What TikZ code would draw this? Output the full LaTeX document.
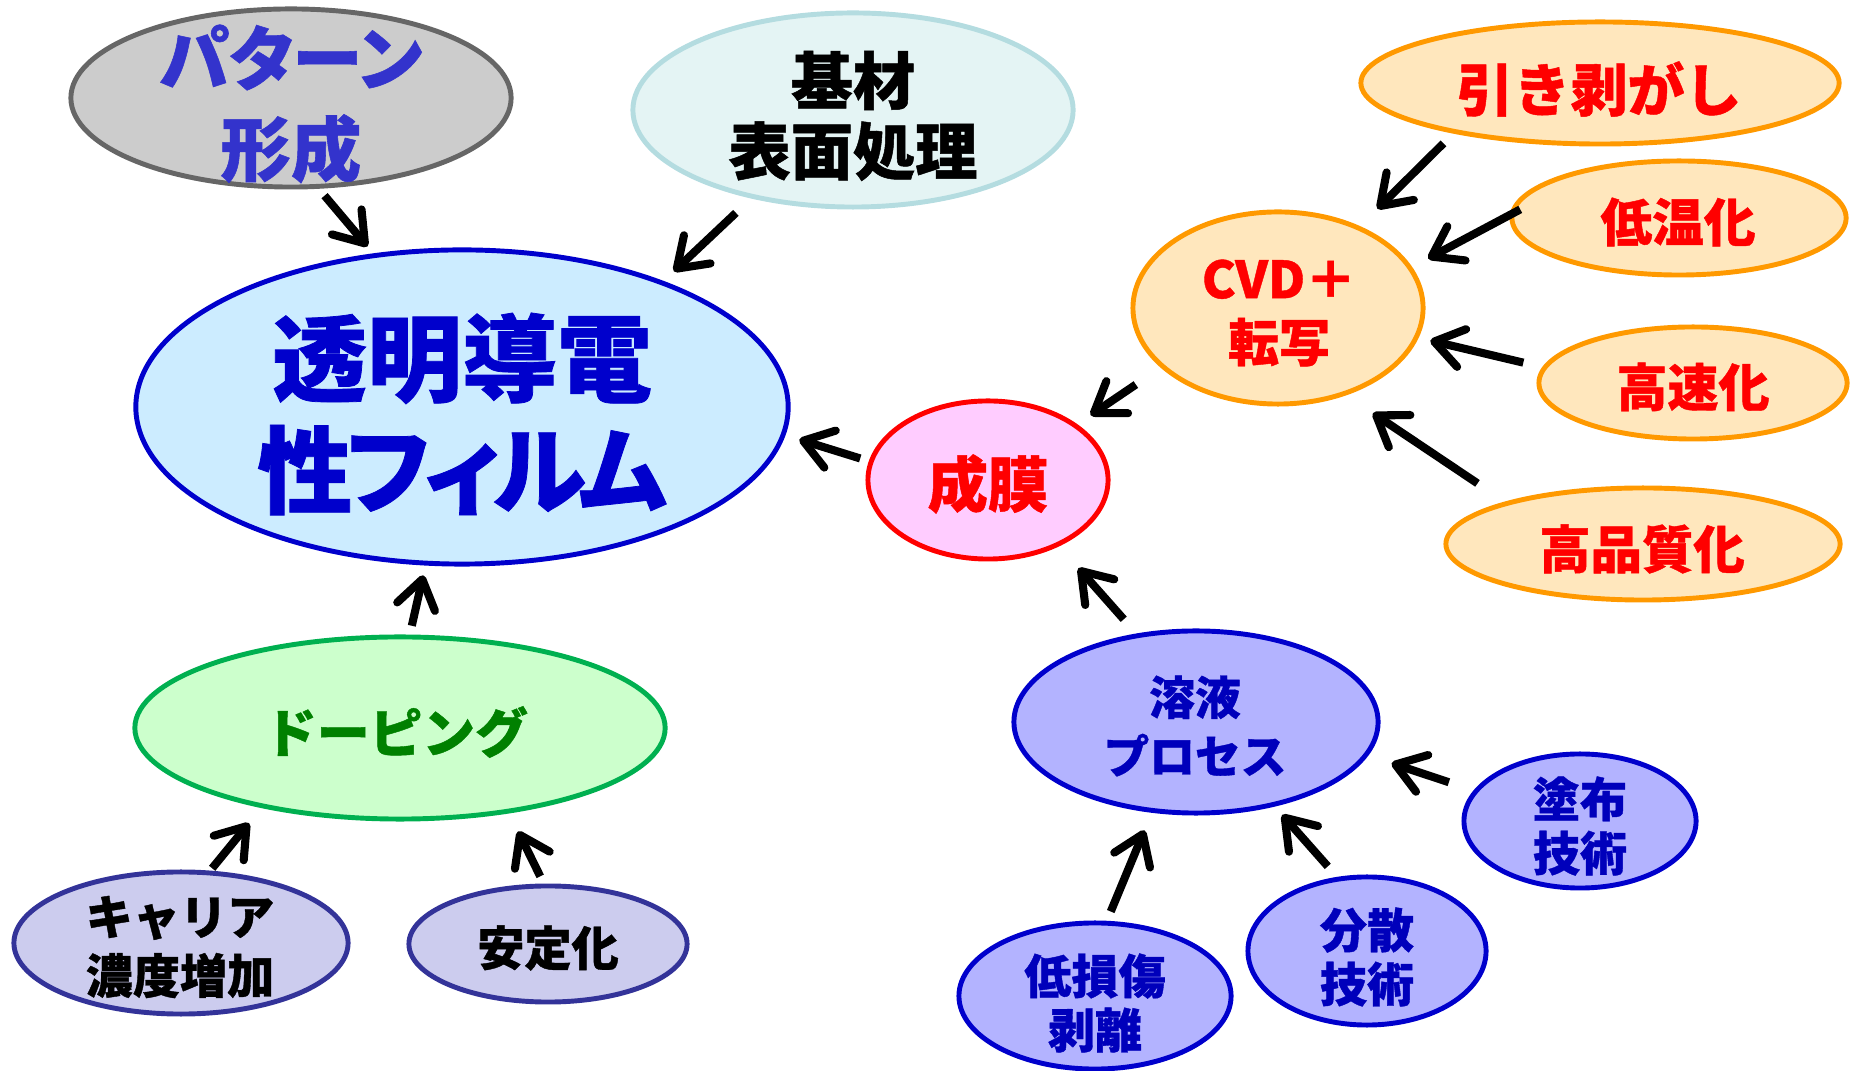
\documentclass[tikz,border=0pt]{standalone}
\usepackage{fontspec}
\setmainfont{Noto Sans CJK JP}[BoldFeatures={FakeBold=0.8}]
\newfontfamily\palfont{Noto Sans CJK JP}[RawFeature=+palt,BoldFeatures={FakeBold=0.8}]
\usetikzlibrary{shapes.geometric,arrows.meta}
\definecolor{patF}{HTML}{CCCCCC}\definecolor{patD}{HTML}{666666}\definecolor{patT}{HTML}{3333CC}
\definecolor{kizF}{HTML}{E4F4F4}\definecolor{kizD}{HTML}{B4DCE0}
\definecolor{tomF}{HTML}{CCECFF}\definecolor{tomD}{HTML}{0000CC}
\definecolor{seiF}{HTML}{FFCCFF}\definecolor{redT}{HTML}{FF0000}
\definecolor{oraF}{HTML}{FFE7BD}\definecolor{oraD}{HTML}{FF9900}
\definecolor{yoeF}{HTML}{B3B3FF}\definecolor{yoeT}{HTML}{0000BB}
\definecolor{dopF}{HTML}{CCFFCC}\definecolor{dopD}{HTML}{00B050}\definecolor{dopT}{HTML}{008000}
\definecolor{lavF}{HTML}{CCCCEE}\definecolor{lavD}{HTML}{333399}
\newcommand\fsz[2]{\fontsize{#1pt}{#2pt}\selectfont\bfseries}
\newcommand\pfsz[2]{\palfont\fontsize{#1pt}{#2pt}\selectfont\bfseries}
\newcommand\kk{\kern-1.8pt}
\begin{document}
\begin{tikzpicture}[x=0.01cm,y=-0.01cm,
  oval/.style={ellipse,line width=1.4pt,inner sep=0pt},
  txt/.style={align=center,inner sep=0pt},
  arr/.style={draw=black,line width=2.3pt,-{Straight Barb[length=8pt,width=11pt,round]}}]
\useasboundingbox (0,0) rectangle (1852,1071);
% ellipses
\node[oval,draw=patD,fill=patF,minimum width=4.40cm,minimum height=1.78cm] (pat) at (291,98) {};
\node[oval,draw=kizD,fill=kizF,minimum width=4.40cm,minimum height=1.94cm] (kiz) at (853,110) {};
\node[oval,draw=tomD,fill=tomF,minimum width=6.52cm,minimum height=3.14cm] (tom) at (462,407) {};
\node[oval,draw=redT,fill=seiF,minimum width=2.40cm,minimum height=1.58cm] (sei) at (988,480) {};
\node[oval,draw=oraD,fill=oraF,minimum width=2.90cm,minimum height=1.92cm] (cvd) at (1278,308) {};
\node[oval,draw=oraD,fill=oraF,minimum width=4.78cm,minimum height=1.22cm] (hik) at (1600,83) {};
\node[oval,draw=oraD,fill=oraF,minimum width=3.34cm,minimum height=1.14cm] (tei) at (1679,218) {};
\node[oval,draw=oraD,fill=oraF,minimum width=3.08cm,minimum height=1.12cm] (kos) at (1693,383) {};
\node[oval,draw=oraD,fill=oraF,minimum width=3.94cm,minimum height=1.12cm] (hin) at (1643,544) {};
\node[oval,draw=tomD,fill=yoeF,minimum width=3.64cm,minimum height=1.82cm] (yoe) at (1196,722) {};
\node[oval,draw=tomD,fill=yoeF,minimum width=2.32cm,minimum height=1.34cm] (tof) at (1580,821) {};
\node[oval,draw=tomD,fill=yoeF,minimum width=2.38cm,minimum height=1.48cm] (bun) at (1367,951) {};
\node[oval,draw=tomD,fill=yoeF,minimum width=2.72cm,minimum height=1.46cm] (son) at (1095,996) {};
\node[oval,draw=dopD,fill=dopF,minimum width=5.30cm,minimum height=1.82cm] (dop) at (400,728) {};
\node[oval,draw=lavD,fill=lavF,minimum width=3.34cm,minimum height=1.42cm] (car) at (181,943) {};
\node[oval,draw=lavD,fill=lavF,minimum width=2.78cm,minimum height=1.16cm] (ant) at (548,944) {};
% texts
\node[txt,text=patT,font=\pfsz{20}{25.8}] (patL) at (291,104) {パターン\\形成};
\node[txt,text=black,font=\fsz{17.7}{20}] (kizL) at (853,116) {基材\\表面処理};
\node[txt,text=tomD,font=\pfsz{27}{31.8}] (tomL) at (462,414) {透明導電\\性\kk フ\kk ィ\kk ル\kk ム};
\node[txt,text=redT,font=\fsz{17.2}{20}] (seiL) at (988,484) {成膜};
\node[txt,text=redT,font=\fsz{14.5}{18}] (cvdL) at (1279,313) {CVD＋\\転写};
\node[txt,text=redT,font=\fsz{16.2}{20}] (hikL) at (1599,89) {引き剥がし};
\node[txt,text=redT,font=\fsz{14.7}{18}] (teiL) at (1678,222) {低温化};
\node[txt,text=redT,font=\fsz{14.5}{18}] (kosL) at (1693,387) {高速化};
\node[txt,text=redT,font=\fsz{14.6}{18}] (hinL) at (1642,549) {高品質化};
\node[txt,text=yoeT,font=\fsz{13}{16.7}] (yoeL) at (1195,726) {溶液\\プロセス};
\node[txt,text=yoeT,font=\fsz{13.4}{15.4}] (tofL) at (1580,826) {塗布\\技術};
\node[txt,text=yoeT,font=\fsz{13.4}{15.4}] (bunL) at (1367,957) {分散\\技術};
\node[txt,text=yoeT,font=\fsz{13.4}{15.4}] (sonL) at (1095,1003) {低損傷\\剥離};
\node[txt,text=dopT,font=\fsz{15}{18}] (dopL) at (396,732) {ドーピング};
\node[txt,text=black,font=\fsz{13.4}{16.7}] (carL) at (180,947) {キャリア\\濃度増加};
\node[txt,text=black,font=\fsz{13.4}{16.7}] (antL) at (548,948) {安定化};
% arrows
\draw[arr,shorten <=0.09cm,shorten >=0.09cm] (pat.-73.9) -- (tom.120.6);
\draw[arr,shorten <=0.21cm,shorten >=0.14cm] (kiz.-139.7) -- (tom.32.5);
\draw[arr,shorten <=0.09cm,shorten >=0.145cm] (sei.171.4) -- (tom.-5.1);
\draw[arr,shorten <=0.09cm,shorten >=0.10cm] (dop.84.9) -- (tom.-103.2);
\draw[arr,shorten <=0.30cm,shorten >=0.16cm] (cvd.-153.1) -- (sei.32.9);
\draw[arr,shorten <=0.19cm,shorten >=0.29cm] (yoe.124.5) -- (sei.-43.7);
\draw[arr,shorten <=0.14cm,shorten >=0.245cm] (hik.-161.35) -- (cvd.45.6);
\draw[arr,shorten <=-0.12cm,shorten >=0.18cm] (tei.179.3) -- (cvd.17.2);
\draw[arr,shorten <=0.195cm,shorten >=0.12cm] (kos.174.9) -- (cvd.-12.85);
\draw[arr,shorten <=0.33cm,shorten >=0.32cm] (hin.163.3) -- (cvd.-52.9);
\draw[arr,shorten <=0.26cm,shorten >=0.245cm] (tof.164.5) -- (yoe.-11.8);
\draw[arr,shorten <=0.14cm,shorten >=0.11cm] (bun.112.4) -- (yoe.-47.97);
\draw[arr,shorten <=0.10cm,shorten >=0.19cm] (son.81.1) -- (yoe.-116.8);
\draw[arr,shorten <=0.03cm,shorten >=0.195cm] (car.68.3) -- (dop.-150.9);
\draw[arr,shorten <=0.08cm,shorten >=0.20cm] (ant.94.3) -- (dop.-38.66);
\end{tikzpicture}
\end{document}
